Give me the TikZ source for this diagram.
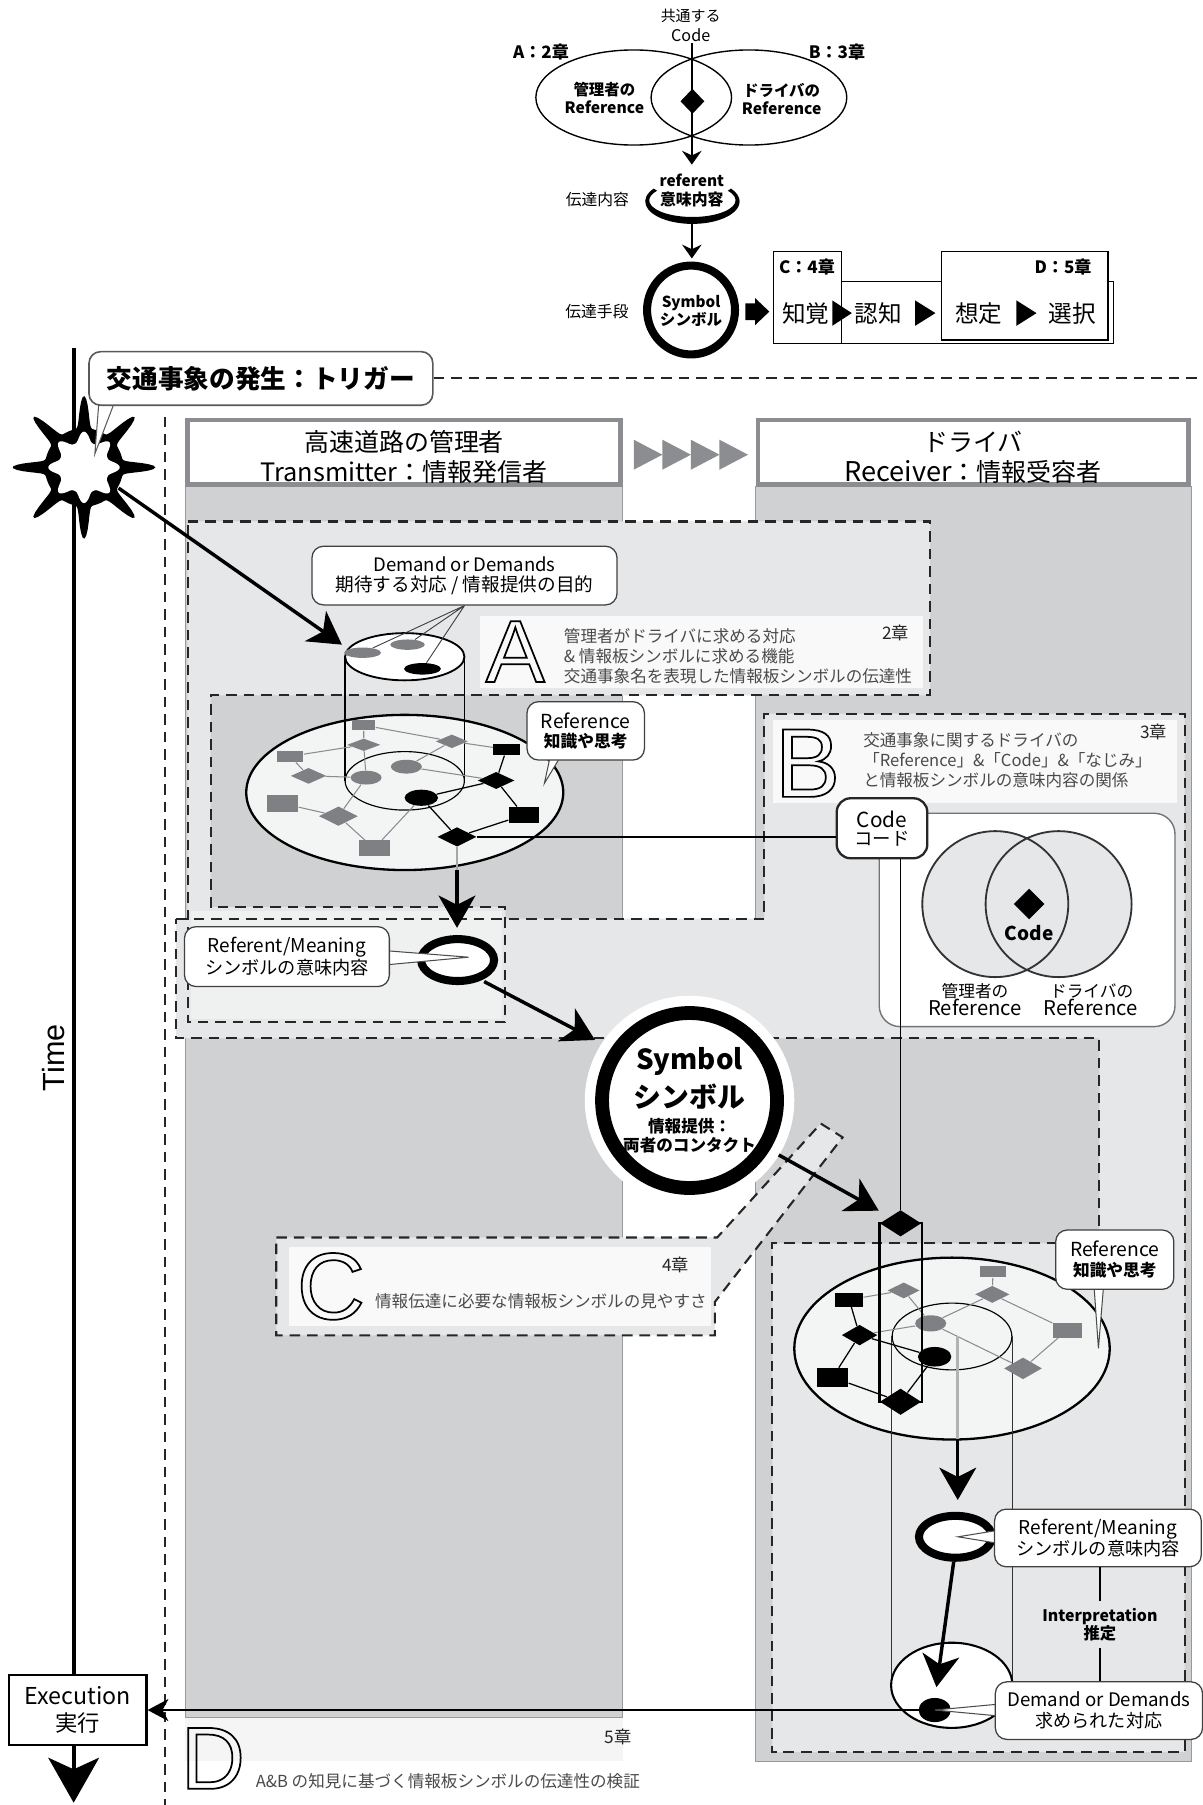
\documentclass[tikz,border=0pt]{standalone}
\usepackage{fontspec}
\setmainfont{Noto Sans CJK JP}
\newfontfamily\helv{Liberation Sans}
\usetikzlibrary{arrows.meta,shapes.geometric,calc}

\definecolor{panel}{HTML}{D0D1D3}
\definecolor{zone}{HTML}{E6E7E8}
\definecolor{lightzone}{HTML}{EFF0F0}
\definecolor{paper}{HTML}{F9F9F9}
\definecolor{nodegray}{HTML}{7F8084}
\definecolor{rim}{HTML}{8C8D90}
\definecolor{notegray}{HTML}{4A4A4A}
\definecolor{disk}{HTML}{F3F4F4}
\definecolor{linkgray}{HTML}{8A8B8D}

\newcommand\fsz[2]{\fontsize{#1}{#2}\selectfont}
\newcommand\hollow[1]{\special{pdf:literal direct 1 Tr 0.75 w}#1\special{pdf:literal direct 0 Tr}}

\tikzset{
  every node/.style={inner sep=0pt, align=center},
  sz/.style 2 args={minimum width=#1*0.5pt, minimum height=#2*0.5pt},
  zonedash/.style={draw=black!85, line width=0.9pt, dash pattern=on 4.6pt off 3pt},
  callout/.style={draw=black!75, fill=white, line width=0.55pt, rounded corners=5pt},
  pointer/.style={draw=black!70, fill=white, line width=0.45pt},
  bigarrow/.style={line width=1.5pt, -{Stealth[length=14pt,width=16pt,inset=4pt]}},
  smallarrow/.style={line width=0.6pt, -{Stealth[length=6pt,width=8.5pt,inset=2pt]}},
  gsq/.style={rectangle, fill=nodegray},
  bsq/.style={rectangle, fill=black},
  gdia/.style={diamond, fill=nodegray},
  bdia/.style={diamond, fill=black},
  gell/.style={ellipse, fill=nodegray},
  bell/.style={ellipse, fill=black},
  glink/.style={draw=linkgray, line width=0.45pt},
  blink/.style={draw=black, line width=0.55pt},
  note/.style={text=notegray, align=left, anchor=west, font=\fsz{7.2pt}{8.7pt}},
  chap/.style={text=black!85, font=\fsz{7.5pt}{8pt}},
  stage/.style={font=\fsz{10.25pt}{11pt}},
  topbold/.style={font=\fsz{7.4pt}{8pt}\bfseries},
}

\begin{document}
\begin{tikzpicture}[x=0.5pt,y=-0.5pt]
\useasboundingbox (0,0) rectangle (1045,1568);
\fill[white] (0,0) rectangle (1045,1568);

%% ===== summary diagram =====
\draw[line width=0.6pt] (550.5,84.7) ellipse[x radius=85, y radius=41.3];
\draw[line width=0.6pt] (650.6,84.7) ellipse[x radius=85, y radius=41.3];
\node[font=\fsz{6.5pt}{7pt}] (common) at (600,14) {共通する};
\node[font=\fsz{7pt}{7pt}] (commonCode) at (600,30.4) {Code};
\node[topbold] (chapA) at (470,45) {A：2章};
\node[topbold] (chapB) at (727,45) {B：3章};
\node[font=\fsz{6.7pt}{8pt}\bfseries] (refAdm) at (525,85) {管理者の\\{\fsz{6.8pt}{8pt}Reference}};
\node[font=\fsz{6.7pt}{8pt}\bfseries] (refDrv) at (679,86) {ドライバの\\{\fsz{6.8pt}{8pt}Reference}};
\coordinate (codeLineTop) at (601,37.6);
\coordinate (codeLineEnd) at (601,143);
\draw[smallarrow] (codeLineTop) -- (codeLineEnd);
\node[bdia, sz={21}{22}] (codeGem) at (601.5,88) {};
% crescent cradling the referent label
\fill ($(601.5,175)+(215:41 and 19.5)$) arc[start angle=215, end angle=-35, x radius=41, y radius=19.5]
  -- ($(601.5,174)+(-35:37.5 and 14.5)$) arc[start angle=-35, end angle=215, x radius=37.5, y radius=14.5] -- cycle;
\node[font=\fsz{6.9pt}{8.65pt}\bfseries] (referentT) at (601,165.5) {{\fsz{6.7pt}{8.65pt}referent}\\意味内容};
\node[font=\fsz{6.85pt}{7pt}] (contentT) at (519,173) {伝達内容};
\coordinate (crescentOut) at (601,195);
\coordinate (symSmallIn) at (601,224.5);
\draw[smallarrow] (crescentOut) -- (symSmallIn);
\node[ellipse, draw, line width=3.5pt, sz={76.4}{77.2}] (symSmallRing) at (600.3,269.3) {};
\node[font=\fsz{6.75pt}{8pt}\bfseries] (symSmall) at (600.3,270) {{\fsz{6.6pt}{8pt}Symbol}\\シンボル};
\node[font=\fsz{6.85pt}{7pt}] (meansT) at (518.6,270.7) {伝達手段};
\fill (647.5,263.5) -- (656,263.5) -- (656,259) -- (668.3,270.7) -- (656,282.4) -- (656,278) -- (647.5,278) -- cycle;
\draw[line width=0.6pt, fill=white] (731,244.7) rectangle (967.4,298.2);
\draw[line width=0.6pt, fill=white] (817.8,218.6) rectangle (962.5,295.3);
\draw[line width=0.6pt, fill=white] (672,218.6) rectangle (731,298.2);
\node[topbold] (chapC) at (701,231.7) {C：4章};
\node[topbold] (chapD) at (923.4,231.7) {D：5章};
\node[stage] (perceive) at (700,272.2) {知覚};
\node[stage] (cognize) at (763,272.2) {認知};
\node[stage] (assume) at (850.4,272.2) {想定};
\node[stage] (choose) at (931.5,272.2) {選択};
\fill (723,261) -- (740,272) -- (723,283) -- cycle;
\fill (795,261) -- (812.6,272) -- (795,283) -- cycle;
\fill (883,261) -- (900.4,272) -- (883,283) -- cycle;

%% ===== column panels =====
\fill[panel] (161,423) rectangle (541,1492);
\draw[black!40, line width=0.4pt] (161,423) rectangle (541,1492);
\fill[panel] (656,423) rectangle (1035,1530);
\draw[black!40, line width=0.4pt] (656,423) rectangle (1035,1530);
\fill[black!4] (161,1492) rectangle (541,1530);
\node[draw=rim, line width=2pt, fill=white, sz={376}{56}] (senderBox) at (351,393) {};
\node[font=\fsz{10.85pt}{13pt}] (senderT) at (351,397) {高速道路の管理者\\{\fsz{11pt}{13pt}Transmitter}：情報発信者};
\node[draw=rim, line width=2pt, fill=white, sz={373.8}{56}] (receiverBox) at (845.4,393) {};
\node[font=\fsz{10.85pt}{13pt}] (receiverT) at (845.4,397) {ドライバ\\{\fsz{11.8pt}{13pt}Receiver}：情報受容者};
\foreach \k in {0,1,2,3} {
  \fill[rim] ({550.6+24.8*\k},382) -- ({575.4+24.8*\k},395) -- ({550.6+24.8*\k},408) -- cycle;
}

%% ===== study areas =====
\fill[zone] (153,798) -- (664,798) -- (664,620) -- (1029,620) -- (1029,1522) -- (671,1522)
  -- (671,1080) -- (955,1080) -- (955,902) -- (153,902) -- cycle;
\fill[zone] (163,453) -- (808,453) -- (808,604) -- (183,604) -- (183,788) -- (439,788)
  -- (439,888) -- (163,888) -- cycle;
\fill[lightzone] (166,791) rectangle (436,885);
\fill[zone] (240,1075) -- (623,1075) -- (713,976) -- (732,988) -- (621,1131) -- (621,1160) -- (240,1160) -- cycle;
\fill[paper] (251,1083) rectangle (618,1152);
\fill[paper] (417,535) rectangle (802,598);
\fill[paper] (671.6,625.5) rectangle (1022.5,697.6);
\draw[zonedash] (163,453) -- (808,453) -- (808,604) -- (183,604) -- (183,788) -- (439,788)
  -- (439,888) -- (163,888) -- cycle;
\draw[zonedash] (153,798) -- (664,798) -- (664,620) -- (1029,620) -- (1029,1522) -- (671,1522)
  -- (671,1080) -- (955,1080) -- (955,902) -- (153,902) -- cycle;
\draw[zonedash] (240,1075) -- (623,1075) -- (713,976) -- (732,988) -- (621,1131) -- (621,1160) -- (240,1160) -- cycle;
\draw[zonedash] (143.5,362) -- (143.5,1568);

%% ===== chapter notes =====
\node (letterA) at (447.6,566) {\hollow{\helv\fsz{38.4pt}{40pt}A}};
\node[note] (noteA) at (489.5,569.9) {管理者がドライバに求める対応\\\& 情報板シンボルに求める機能\\交通事象名を表現した情報板シンボルの伝達性};
\node[chap] (chap2) at (778,550) {2章};
\node (letterB) at (701.5,663) {\hollow{\helv\fsz{42.5pt}{44pt}B}};
\node[note] (noteB) at (749.5,660.1) {交通事象に関するドライバの\\「Reference」\&「Code」\&「なじみ」\\と情報板シンボルの意味内容の関係};
\node[chap] (chap3) at (1002,635.6) {3章};
\node (letterC) at (287.5,1117.5) {\hollow{\helv\fsz{41pt}{42pt}C}};
\node[note] (noteC) at (325.5,1130.7) {情報伝達に必要な情報板シンボルの見やすさ};
\node[chap] (chap4) at (587,1099) {4章};
\node (letterD) at (185,1527.5) {\hollow{\helv\fsz{38.4pt}{40pt}D}};
\node[chap] (chap5) at (537,1509) {5章};
\node[note] (noteD) at (221.8,1547.7) {A\&B の知見に基づく情報板シンボルの伝達性の検証};

%% ===== time axis and trigger =====
\coordinate (timeTop) at (64,302);
\coordinate (timeEnd) at (64,1566);
\node[draw, line width=1pt, fill=white, minimum width=59.7pt, minimum height=30.5pt, font=\fsz{9.7pt}{12pt}] (exec) at (67.5,1485.5)
  {{\fsz{10.1pt}{12pt}Execution}\\実行};
\draw[line width=1.7pt] (timeTop) -- (exec.north -| timeTop);
\draw[line width=1.7pt, -{Stealth[length=19.5pt,width=22pt,inset=5pt]}] (exec.south -| timeTop) -- (timeEnd);
\node[rotate=90, font=\helv\fsz{13.3pt}{14pt}] (timeLabel) at (46.3,918.7) {Time};
\fill plot[domain=0:360, samples=250, variable=\t]
  ({73+(34+28*abs(cos(4*\t))^12)*cos(\t)}, {406+(34+28*abs(cos(4*\t))^12)*sin(\t)}) -- cycle;
\fill[white] plot[domain=0:360, samples=250, variable=\t]
  ({73+(22+9*abs(cos(4*\t))^3)*cos(\t)}, {406+(22+9*abs(cos(4*\t))^3)*sin(\t)}) -- cycle;
\coordinate (burstCore) at (82.4,394.3);
\path[pointer, draw=black!65] (86,348) -- (burstCore) -- (100,348) -- cycle;
\node[callout, draw=black!65, line width=0.7pt, sz={298.7}{46.5}, font=\fsz{11.15pt}{12pt}\bfseries] (trigger) at (226.65,328.75)
  {交通事象の発生：トリガー};
\draw[zonedash] (trigger.east) -- (trigger.east -| 1045,0);

%% ===== Venn panel and code =====
\node[draw=black!55, line width=0.6pt, fill=white, rounded corners=9pt, sz={256.9}{185.3}] (vennBox) at (892.25,799.15) {};
\fill[zone] (864.6,785.4) circle[radius=63.4];
\fill[zone] (919.6,785.4) circle[radius=63.4];
\draw[black!80, line width=0.8pt] (864.6,785.4) circle[radius=63.4] (919.6,785.4) circle[radius=63.4];
\node[bdia, sz={27}{27}] (vennGem) at (894,785.3) {};
\node[font=\fsz{8.25pt}{9pt}\bfseries] (vennCode) at (894,810.7) {Code};
\node[font=\fsz{7.25pt}{8pt}] (vennAdm1) at (847,860.6) {管理者の};
\node[font=\fsz{8.8pt}{10pt}] (vennAdm2) at (847,875) {Reference};
\node[font=\fsz{7.25pt}{8pt}] (vennDrv1) at (948.3,860.6) {ドライバの};
\node[font=\fsz{8.8pt}{10pt}] (vennDrv2) at (947.4,875) {Reference};

%% ===== sender's reference disk =====
\draw[line width=1pt, fill=disk] (351.6,688.4) ellipse[x radius=137.7, y radius=67.4];
\draw[line width=0.5pt] (351.6,678.3) ellipse[x radius=51.8, y radius=25.4];
\draw[line width=0.6pt] (299.8,570.5) -- (299.8,678.3) (403.5,570.5) -- (403.5,678.3);
\node[gsq, sz={20}{9}] (gS1) at (316,630) {};
\node[gdia, sz={29}{11}] (gD1) at (316,647) {};
\node[gdia, sz={28}{12}] (gD2) at (392.5,644) {};
\node[bsq, sz={23}{10}] (bS1) at (440,651) {};
\node[gsq, sz={23}{10}] (gS2) at (252,657) {};
\node[gdia, sz={31}{14}] (gD3) at (268,674) {};
\node[gell, sz={27}{12}] (gE1) at (353,666) {};
\node[gell, sz={27}{12}] (gE2) at (318,675.5) {};
\node[bdia, sz={32}{15}] (bD1) at (431,678) {};
\node[bell, sz={29}{14}] (bE1) at (366,693) {};
\node[gsq, sz={27}{15}] (gS3) at (245.5,698) {};
\node[gdia, sz={34}{17}] (gD4) at (294,709) {};
\node[bsq, sz={26}{14}] (bS2) at (455,708) {};
\node[bdia, sz={34}{17}] (bD2) at (397,727) {};
\node[gsq, sz={27}{14}] (gS4) at (325,737) {};
\draw[glink] (gS1) -- (gD1) (gS1) -- (gD2) (gD2) -- (bS1) (gD1) -- (gS2) (gD1) -- (gE2)
  (gS2) -- (gD3) (gD3) -- (gE2) (gD2) -- (gE1) (gE1) -- (bD1) (gE2) -- (gD4)
  (gS3) -- (gD4) (gD4) -- (gS4) (gS4) -- (bE1);
\draw[blink] (bS1) -- (bD1) (bD1) -- (bE1) (bD1) -- (bS2) (bE1) -- (bD2) (bS2) -- (bD2);
\node[ellipse, draw, line width=0.8pt, fill=white, sz={103.7}{41}] (cylTop) at (351.6,570.5) {};
\node[gell, sz={32}{9}] (cE1) at (315,567) {};
\node[gell, sz={30}{9}] (cE2) at (354,560) {};
\node[bell, sz={32}{10}] (cE3) at (367,581) {};
\node[callout, sz={265}{51}, font=\fsz{8.1pt}{8.9pt}] (demandL) at (403.5,500)
  {{\fsz{8.05pt}{8.9pt}Demand or Demands}\\期待する対応 / 情報提供の目的};
\draw[black!75, line width=0.4pt] (demandL.south) -- (cE1) (demandL.south) -- (cE2) (demandL.south) -- (cE3);
\coordinate (refLTip) at (472.9,680.5);
\path[pointer] (478,657) -- (refLTip) -- (487,657) -- cycle;
\node[callout, sz={102}{50.7}, font=\fsz{7.25pt}{8.4pt}\bfseries] (refL) at (508.8,634.9)
  {{\fsz{8.4pt}{8.4pt}\mdseries Reference}\\知識や思考};
\coordinate (burstOut) at (103,424);
\coordinate (cylEntry) at (297,560);
\draw[bigarrow] (burstOut) -- (cylEntry);

%% link from the sender's code to the code box
\node[draw=black!85, line width=1pt, fill=white, rounded corners=6pt, sz={78.7}{52.1}, font=\fsz{8pt}{7.85pt}] (codeBox) at (766.2,719.5)
  {{\fsz{9pt}{7.85pt}Code}\\コード};
\draw[line width=0.6pt] (bD2) -- (bD2 -| codeBox.west);

%% ===== sender's referent =====
\coordinate (diskLBottom) at (397,755.7);
\coordinate (ringLTop) at (397,806);
\draw[black!35, line width=1.2pt] (bD2) -- (diskLBottom);
\draw[bigarrow] (diskLBottom) -- (ringLTop);
\node[ellipse, draw, line width=3.5pt, fill=white, sz={63.4}{36.4}] (ringL) at (397.5,834) {};
\path[pointer] (337,826) -- (407,831.5) -- (337,838) -- cycle;
\node[callout, sz={178}{52}, font=\fsz{7.9pt}{9.4pt}] (referentL) at (249.25,831)
  {{\fsz{8.25pt}{9.4pt}Referent/Meaning}\\シンボルの意味内容};

%% ===== the symbol =====
\coordinate (ringLOut) at (420.6,852.7);
\coordinate (symbolIn) at (516.9,903.4);
\draw[bigarrow] (ringLOut) -- (symbolIn);
\fill[white] (599,956) circle[radius=91];
\node[circle, draw, line width=6pt, minimum size=76pt] (symbolBig) at (599,956) {};
\node[font=\fsz{12pt}{14pt}\bfseries] (symW1) at (599,922) {Symbol};
\node[font=\fsz{12.1pt}{14pt}\bfseries] (symW2) at (599,953) {シンボル};
\node[font=\fsz{7.2pt}{8pt}\bfseries] (symW3) at (599,986.5) {情報提供：\\両者のコンタクト};

%% ===== receiver's reference disk =====
\draw[line width=1pt, fill=disk] (827,1171.5) ellipse[x radius=137, y radius=79];
\draw[line width=0.5pt] (827,1161) ellipse[x radius=52, y radius=29];
\draw[line width=0.55pt, black!80] (774.5,1161) -- (774.5,1464) (879.5,1161) -- (879.5,1464);
\node[gsq, sz={22}{10}] (rgS1) at (862.6,1104.7) {};
\node[gdia, sz={28}{14}] (rgD1) at (785,1121) {};
\node[bsq, sz={24}{12}] (rbS1) at (737.7,1129) {};
\node[gdia, sz={30}{15}] (rgD2) at (862,1124.4) {};
\node[gell, sz={27}{14}] (rgE1) at (808.5,1149.6) {};
\node[bdia, sz={31}{18}] (rbD1) at (746.7,1159.8) {};
\node[bell, sz={29}{17}] (rbE1) at (811.9,1178.6) {};
\node[gsq, sz={25}{13}] (rgS2) at (927.1,1155.4) {};
\node[gdia, sz={33}{19}] (rgD3) at (888.7,1188.7) {};
\node[bsq, sz={27}{16}] (rbS2) at (723.3,1196.5) {};
\node[bdia, sz={36}{23}] (rbD2) at (782.3,1217.7) {};
\node[bdia, sz={36}{23}] (rbD0) at (782.3,1062.7) {};
\draw[glink] (rbS1) -- (rgD1) (rgD1) -- (rgE1) (rbD1) -- (rgE1) (rgS1) -- (rgD2) (rgD2) -- (rgE1)
  (rgD2) -- (rgS2) (rgS2) -- (rgD3) (rgE1) -- (rgD3);
\draw[blink] (rbS1) -- (rbD1) (rbD1) -- (rbE1) (rbD1) -- (rbS2) (rbS2) -- (rbD2) (rbE1) -- (rbD2);
\draw[line width=1pt] (rbD0.west) rectangle (rbD2.east);
\draw[line width=0.6pt] (rbD0.north |- codeBox.south) -- (rbD0.north);
\coordinate (symbolOut) at (676.5,1003.3);
\coordinate (pillarIn) at (763.4,1051.7);
\draw[bigarrow] (symbolOut) -- (pillarIn);
\coordinate (refRTip) at (954.2,1171.3);
\path[pointer] (950.5,1119) -- (refRTip) -- (958.5,1119) -- cycle;
\node[callout, sz={102.6}{51.5}, font=\fsz{7.25pt}{8.4pt}\bfseries] (refR) at (968.4,1094.25)
  {{\fsz{8.4pt}{8.4pt}\mdseries Reference}\\知識や思考};

%% ===== receiver's referent and demand =====
\coordinate (diskRTop) at (832,1161);
\coordinate (diskRBottom) at (832,1250);
\coordinate (ringRTop) at (832,1303);
\draw[black!30, line width=1.2pt] (diskRTop) -- (diskRBottom);
\draw[bigarrow] (diskRBottom) -- (ringRTop);
\node[ellipse, draw, line width=3.5pt, fill=white, sz={63.4}{36.4}] (ringR) at (830,1335) {};
\node[ellipse, draw, line width=0.9pt, fill=white, sz={105.4}{74}] (demandPot) at (826.8,1464) {};
\node[bell, sz={28}{21}] (demandDot) at (812,1485.5) {};
\coordinate (ringROut) at (828.5,1356.5);
\coordinate (potIn) at (813.5,1465.6);
\draw[bigarrow] (ringROut) -- (potIn);
\path[pointer] (866,1329.5) -- (832.3,1335) -- (866,1340.5) -- cycle;
\node[callout, sz={179.5}{50}, font=\fsz{7.9pt}{9.4pt}] (referentR) at (953.75,1336)
  {{\fsz{8.25pt}{9.4pt}Referent/Meaning}\\シンボルの意味内容};
\path[pointer] (866,1480.5) -- (demandDot.center) -- (866,1490.5) -- cycle;
\node[callout, sz={180}{50}, font=\fsz{7.85pt}{9pt}] (demandR) at (954.65,1486)
  {{\fsz{8.1pt}{9pt}Demand or Demands}\\求められた対応};
\node[font=\fsz{7.1pt}{7.6pt}\bfseries] (interp) at (955.5,1411.4) {{\fsz{6.9pt}{7.6pt}Interpretation}\\推定};
\draw[line width=0.5pt] (referentR.south -| interp.north) -- ($(interp.north)+(0,-6)$);
\draw[line width=0.5pt] ($(interp.south)+(0,6)$) -- (demandR.north -| interp.south);
\draw[line width=1.1pt, -{Stealth[length=9pt,width=9.5pt,inset=2.5pt]}] (demandDot.center) -- (exec.east |- demandDot.center);
\end{tikzpicture}
\end{document}
